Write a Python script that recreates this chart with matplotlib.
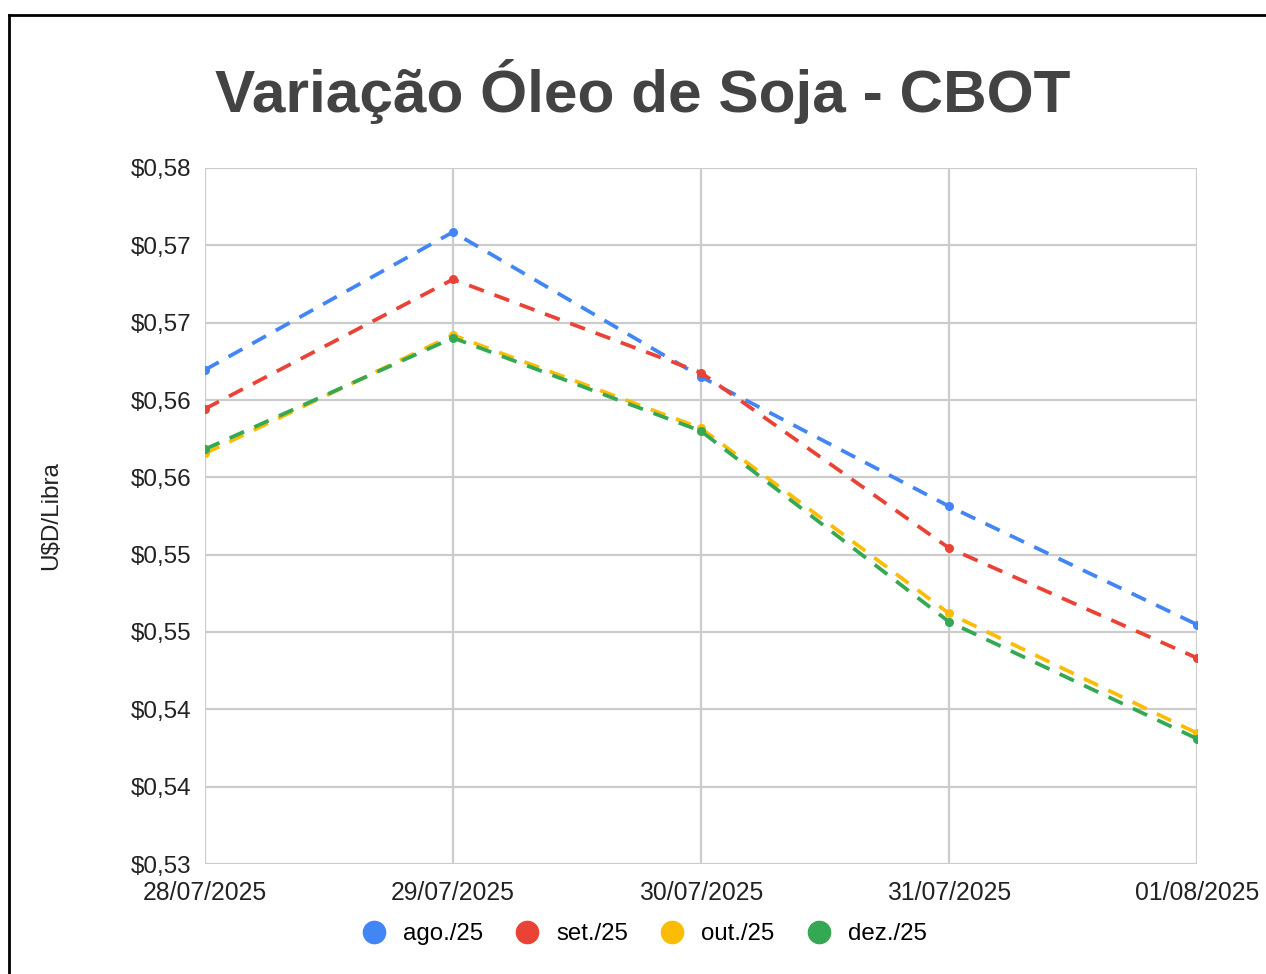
import matplotlib
matplotlib.use("Agg")
import matplotlib.pyplot as plt
from matplotlib.lines import Line2D
from matplotlib.ticker import FixedLocator, FixedFormatter

dates = ["28/07/2025", "29/07/2025", "30/07/2025", "31/07/2025", "01/08/2025"]
ago = [0.5655, 0.5754, 0.5650, 0.5557, 0.5472]
setm = [0.5627, 0.5720, 0.5653, 0.5527, 0.5448]
out = [0.5595, 0.5680, 0.5613, 0.5480, 0.5394]
dez = [0.5598, 0.5678, 0.5611, 0.5474, 0.5390]
series_names = ["ago./25", "set./25", "out./25", "dez./25"]
colors = ["#4285F4", "#EA4335", "#FBBC04", "#34A853"]
y_ticks = [0.53 + i * 0.05 / 9 for i in range(10)]
y_tick_labels = ["$0,53", "$0,54", "$0,54", "$0,55", "$0,55",
                 "$0,56", "$0,56", "$0,57", "$0,57", "$0,58"]

plt.rcParams['font.family'] = ['Liberation Sans', 'DejaVu Sans']

W, H = 1266, 974
fig = plt.figure(figsize=(W / 100, H / 100), dpi=100)
ax = fig.add_axes([205 / W, 1 - 864 / H, (1197 - 205) / W, (864 - 168) / H])

x = list(range(len(dates)))
for vals, c, name in zip([ago, setm, out, dez], colors, series_names):
    ax.plot(x, vals, color=c, lw=2.7, ls=(0, (4.2, 3.0)), marker='o', ms=5.5,
            label=name, dash_capstyle='butt')

ax.set_xlim(0, 4)
ax.set_ylim(0.53, 0.58)
ax.set_xticks(x)
ax.set_xticklabels(dates, fontsize=17.8, color='#222222')
ax.yaxis.set_major_locator(FixedLocator(y_ticks))
ax.yaxis.set_major_formatter(FixedFormatter(y_tick_labels))
ax.tick_params(axis='y', labelsize=17.5, labelcolor='#222222', length=0, pad=10)
ax.tick_params(axis='x', length=0, pad=12)
ax.grid(True, color='#cccccc', lw=1.6)
ax.set_axisbelow(True)
for s in ax.spines.values():
    s.set_visible(False)

ax.set_ylabel("U$D/Libra", fontsize=17.5, color='#222222', labelpad=49)

fig.text(643 / W, 1 - 92 / H, "Variação Óleo de Soja - CBOT", ha='center', va='center',
         fontsize=43.5, fontweight='bold', color='#434343')

handles = [Line2D([], [], ls='none', marker='o', ms=16, color=c, label=n)
           for c, n in zip(colors, series_names)]
fig.legend(handles=handles, loc='center', bbox_to_anchor=(643 / W, 1 - 934 / H), ncol=4,
           frameon=False, fontsize=17.3, handletextpad=0.6, columnspacing=1.25,
           handlelength=1.2)

fig.add_artist(Line2D([8.5 / W, 8.5 / W], [0, 1 - 14.5 / H], transform=fig.transFigure,
                      color='black', lw=2))
fig.add_artist(Line2D([8.5 / W, 1], [1 - 14.5 / H, 1 - 14.5 / H], transform=fig.transFigure,
                      color='black', lw=2))

fig.savefig("out.png", dpi=100, facecolor='white')
